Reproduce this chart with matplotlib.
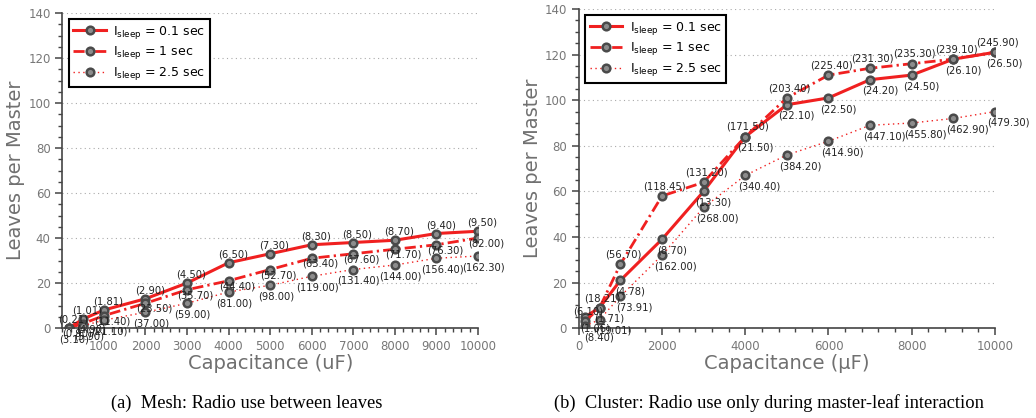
import matplotlib
matplotlib.use("Agg")
import matplotlib.pyplot as plt
from matplotlib.ticker import MultipleLocator

plt.rcParams["font.family"] = ["DejaVu Sans"]
plt.rcParams["mathtext.default"] = "regular"

# capacitance values (uF)
cap = [150, 500, 1000, 2000, 3000, 4000, 5000, 6000, 7000, 8000, 9000, 10000]

# (a) mesh
mesh_01 = [0, 4, 8, 13, 20, 29, 33, 37, 38, 39, 42, 43]
mesh_01_lbl = ["0.21", "1.01", "1.81", "2.90", "4.50", "6.50", "7.30", "8.30", "8.50", "8.70", "9.40", "9.50"]
mesh_1 = [0, 2, 5.5, 11, 17, 21, 26, 31, 33, 35, 37, 40]
mesh_1_lbl = ["0.90", "4.90", "11.40", "23.50", "35.70", "44.40", "52.70", "63.40", "67.60", "71.70", "76.30", "82.00"]
mesh_25 = [0, 1, 3.5, 7, 11, 16, 19, 23, 26, 28, 31, 32]
mesh_25_lbl = ["3.10", "5.90", "21.10", "37.00", "59.00", "81.00", "98.00", "119.00", "131.40", "144.00", "156.40", "162.30"]

# (b) cluster
cl_01 = [5, 9, 21, 39, 60, 84, 98, 101, 109, 111, 118, 121]
cl_01_lbl = ["1.06", "1.71", "4.78", "8.70", "13.30", "21.50", "22.10", "22.50", "24.20", "24.50", "26.10", "26.50"]
cl_1 = [3, 9, 28, 58, 64, 84, 101, 111, 114, 116, 118, 121]
cl_1_lbl = ["6.10", "18.21", "56.70", "118.45", "131.20", "171.50", "203.40", "225.40", "231.30", "235.30", "239.10", "245.90"]
cl_25 = [1, 3.8, 14, 32, 53, 67, 76, 82, 89, 90, 92, 95]
cl_25_lbl = ["8.40", "19.01", "73.91", "162.00", "268.00", "340.40", "384.20", "414.90", "447.10", "455.80", "462.90", "479.30"]

RED = "#f02020"
styles = [
    dict(ls="-", lw=2.2),
    dict(ls=(0, (4, 1.5, 0.8, 1.5)), lw=2.0),
    dict(ls=(0, (1, 2.5)), lw=1.0),
]
legend_lbl = [r"$I_{sleep}$ = 0.1 sec", r"$I_{sleep}$ = 1 sec", r"$I_{sleep}$ = 2.5 sec"]


def draw(ax, series, labels, offsets, xlabel, xmajor, xminor, show_zero):
    for (ys, lbls, st, lg, off) in zip(series, labels, styles, legend_lbl, offsets):
        ax.plot(cap, ys, color=RED, marker="o", ms=5.5, mfc="#8c8c8c", mec="#4a4a4a",
                mew=1.8, label=lg, **st)
        for x, y, t in zip(cap, ys, lbls):
            ax.annotate("(%s)" % t, (x, y), xytext=off, textcoords="offset points",
                        ha="center", va="center", fontsize=7.2, color="#222222")
    ax.set_xlim(0, 10000)
    ax.set_ylim(0, 140)
    ax.yaxis.set_major_locator(MultipleLocator(20))
    ax.yaxis.set_minor_locator(MultipleLocator(5))
    ax.xaxis.set_major_locator(MultipleLocator(xmajor))
    ax.xaxis.set_minor_locator(MultipleLocator(xminor))
    if not show_zero:
        ax.set_xticks(list(range(1000, 10001, 1000)))
    ax.grid(axis="y", ls=(0, (1, 3)), color="#aaaaaa", lw=0.8)
    ax.set_axisbelow(True)
    for s in ["top", "right"]:
        ax.spines[s].set_visible(False)
    for s in ["left", "bottom"]:
        ax.spines[s].set_color("#444444")
        ax.spines[s].set_linewidth(1.2)
    ax.tick_params(which="major", length=5, width=1.1, color="#444444",
                   labelcolor="#777777", labelsize=8.5)
    ax.tick_params(which="minor", length=3, width=1.0, color="#444444")
    ax.set_xlabel(xlabel, fontsize=14, color="#707070", labelpad=1)
    ax.set_ylabel("Leaves per Master", fontsize=14, color="#707070", labelpad=2)
    leg = ax.legend(loc="upper left", fontsize=9, handlelength=2.6, fancybox=False,
                    framealpha=1, borderpad=0.35, labelspacing=0.3, handletextpad=0.6,
                    borderaxespad=0, bbox_to_anchor=(0.016, 0.98))
    leg.get_frame().set_edgecolor("black")
    leg.get_frame().set_linewidth(1.5)


fig = plt.figure(figsize=(10.36, 4.18), dpi=100)
ax1 = fig.add_axes([0.0602, 0.2153, 0.4012, 0.7536])
ax2 = fig.add_axes([0.5586, 0.2146, 0.4018, 0.764])

draw(ax1, [mesh_01, mesh_1, mesh_25], [mesh_01_lbl, mesh_1_lbl, mesh_25_lbl],
     [(3, 6), (6, -4), (4, -8)], "Capacitance (uF)", 1000, 200, False)
draw(ax2, [cl_01, cl_1, cl_25], [cl_01_lbl, cl_1_lbl, cl_25_lbl],
     [(7, -8), (2, 7), (10, -8)], "Capacitance (\u00b5F)", 2000, 400, True)

fig.text(0.238, 0.035, "(a)  Mesh: Radio use between leaves", family="Liberation Serif",
         fontsize=13.3, ha="center", va="center")
fig.text(0.742, 0.035, "(b)  Cluster: Radio use only during master-leaf interaction",
         family="Liberation Serif", fontsize=13.3, ha="center", va="center")

fig.savefig("out.png", dpi=100)
